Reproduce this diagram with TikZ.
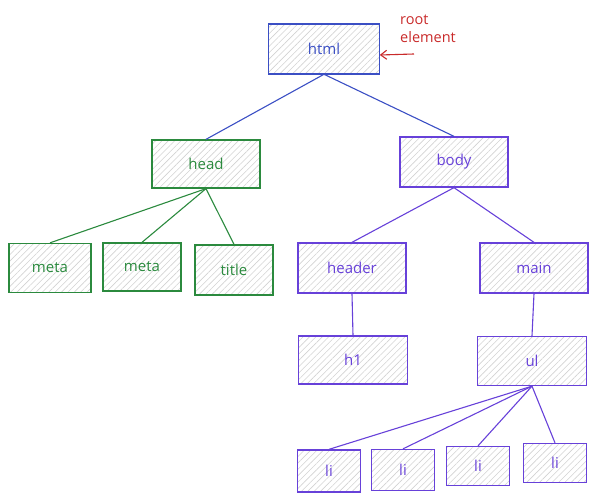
\documentclass[tikz,border=0pt]{standalone}
\usepackage{fontspec}
\setmainfont{Open Sans}
\usetikzlibrary{patterns.meta,arrows.meta}
\definecolor{htmlblue}{HTML}{3B4FC4}
\definecolor{headgreen}{HTML}{2B8A3E}
\definecolor{bodyviolet}{HTML}{6741D9}
\definecolor{noteRed}{HTML}{C92A2A}

\begin{document}
\begin{tikzpicture}[x=1pt,y=1pt,
  tag/.style={draw=#1,text=#1,line width=1.3pt,
    pattern={Lines[angle=45,distance=4.5pt,line width=0.6pt]},pattern color=gray!35,
    inner sep=0pt,font=\fontsize{15}{17}\selectfont},
  edge/.style={draw=#1,line width=1.1pt}]
  \useasboundingbox (0,0) rectangle (598,500);

  %% Root element and its note
  \node[tag=htmlblue,minimum width=111pt,minimum height=50pt] (html) at (324,451) {html};
  \node[text=noteRed,align=left,inner sep=0pt,font=\fontsize{14.5}{18}\selectfont] (rootnote) at (428,471) {root\\element};
  \coordinate (rootfoot) at (414,446);
  \draw[-{Straight Barb[length=6pt,width=9pt]},noteRed,line width=1.1pt] (rootfoot) -- ([yshift=-6pt]html.east);

  %% Second level
  \node[tag=headgreen,minimum width=108pt,minimum height=48pt] (head) at (206,336) {head};
  \node[tag=bodyviolet,minimum width=108pt,minimum height=50pt] (body) at (454,338) {body};
  \draw[edge=htmlblue] (html.south) -- (head.north);
  \draw[edge=htmlblue] (html.south) -- (body.north);

  %% Children of head
  \foreach \name/\txt/\x/\y/\w/\h in {meta1/meta/50/232/82/49,meta2/meta/142/233/78/48,title/title/234/230/78/50}
  {
    \node[tag=headgreen,minimum width=\w pt,minimum height=\h pt] (\name) at (\x,\y) {\txt};
    \draw[edge=headgreen] (head.south) -- (\name.north);
  }

  %% Children of body
  \foreach \name/\txt/\x/\y in {header/header/352/232,main/main/534/232}
  {
    \node[tag=bodyviolet,minimum width=108pt,minimum height=50pt] (\name) at (\x,\y) {\txt};
    \draw[edge=bodyviolet] (body.south) -- (\name.north);
  }

  %% Third level
  \node[tag=bodyviolet,minimum width=109pt,minimum height=48pt] (h1) at (353,140) {h1};
  \node[tag=bodyviolet,minimum width=109pt,minimum height=49pt] (ul) at (532,139) {ul};
  \draw[edge=bodyviolet] (header.south) -- (h1.north);
  \draw[edge=bodyviolet] (main.south) -- (ul.north);

  %% List items
  \foreach \name/\x/\y/\h in {li1/329/29/42,li2/403/30/41,li3/478/34/39,li4/555/37/39}
  {
    \node[tag=bodyviolet,minimum width=63pt,minimum height=\h pt] (\name) at (\x,\y) {li};
    \draw[edge=bodyviolet] (ul.south) -- (\name.north);
  }
\end{tikzpicture}
\end{document}
